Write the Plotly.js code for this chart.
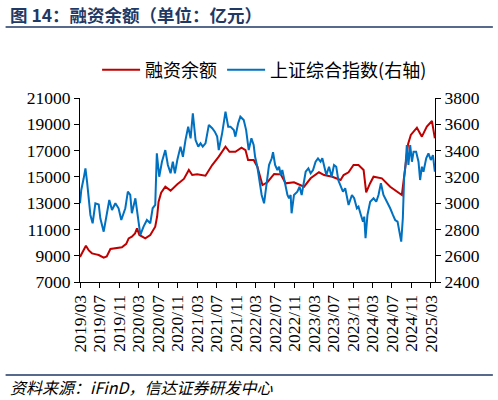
<!DOCTYPE html>
<html>
<head>
<meta charset="utf-8">
<script src="https://cdn.plot.ly/plotly-3.0.1.min.js"></script>
<style>html,body{margin:0;padding:0;background:#fff;}#chart{width:498px;height:400px;}</style>
</head>
<body>
<div id="chart"></div>
<script>
// 融资余额（亿元）
var marginDates = ['2019-03-01','2019-04-07','2019-04-25','2019-05-15','2019-06-10','2019-06-26','2019-07-27','2019-08-15','2019-09-07','2019-10-08','2019-11-18','2019-12-15','2019-12-30','2020-01-19','2020-02-08','2020-02-20','2020-03-06','2020-04-12','2020-05-13','2020-06-13','2020-06-25','2020-07-04','2020-07-20','2020-08-15','2020-09-17','2020-10-29','2020-12-09','2021-01-09','2021-01-30','2021-03-02','2021-04-23','2021-06-04','2021-07-15','2021-08-26','2021-09-20','2021-10-27','2021-12-04','2021-12-29','2022-01-14','2022-02-18','2022-03-13','2022-04-14','2022-05-15','2022-06-26','2022-08-06','2022-09-06','2022-10-28','2022-12-30','2023-02-09','2023-04-02','2023-05-04','2023-06-24','2023-08-15','2023-09-03','2023-10-04','2023-11-04','2023-12-05','2024-01-06','2024-01-22','2024-02-15','2024-03-08','2024-04-29','2024-06-20','2024-09-01','2024-09-22','2024-10-10','2024-10-27','2024-12-04','2025-01-04','2025-02-04','2025-03-08','2025-03-26'];
var marginValues = [8900,9762,9400,9180,9100,9054,8850,8950,9510,9560,9640,9900,10320,10450,10700,11080,10580,10320,10580,11210,12000,13110,13800,14250,13950,14430,14840,15520,15140,15190,15090,15900,16540,17300,16910,16910,17220,17040,16280,16280,15770,14380,14590,15220,15190,14510,14590,14250,14890,15350,15140,15010,14760,15140,15350,15900,15900,15520,13820,14500,15010,14890,14250,13620,15650,17500,18190,18740,18060,18820,19250,17930];

// 上证综合指数（右轴）
var indexDates = ['2019-03-01','2019-03-09','2019-03-24','2019-04-04','2019-04-14','2019-04-24','2019-05-05','2019-05-19','2019-06-05','2019-06-26','2019-07-06','2019-07-27','2019-08-16','2019-08-31','2019-09-17','2019-10-08','2019-10-28','2019-11-14','2019-12-09','2019-12-25','2020-01-09','2020-01-19','2020-02-10','2020-02-20','2020-03-01','2020-03-12','2020-04-01','2020-04-22','2020-05-13','2020-05-28','2020-06-13','2020-06-23','2020-07-08','2020-07-25','2020-08-15','2020-08-31','2020-09-17','2020-10-01','2020-10-14','2020-10-29','2020-11-18','2020-12-03','2020-12-19','2021-01-05','2021-01-20','2021-02-03','2021-02-20','2021-03-09','2021-03-23','2021-04-06','2021-04-23','2021-05-14','2021-06-04','2021-06-20','2021-07-05','2021-07-15','2021-08-05','2021-08-26','2021-09-12','2021-09-26','2021-10-17','2021-10-27','2021-11-13','2021-11-27','2021-12-18','2022-01-02','2022-01-18','2022-02-04','2022-02-18','2022-02-27','2022-03-13','2022-03-28','2022-04-09','2022-04-24','2022-05-09','2022-05-25','2022-06-11','2022-06-19','2022-07-02','2022-07-16','2022-07-27','2022-08-06','2022-08-16','2022-08-27','2022-09-06','2022-09-17','2022-09-27','2022-10-07','2022-10-13','2022-10-28','2022-11-18','2022-12-02','2022-12-15','2022-12-30','2023-01-09','2023-01-26','2023-02-09','2023-02-24','2023-03-12','2023-03-27','2023-04-12','2023-04-23','2023-05-04','2023-05-18','2023-06-04','2023-06-20','2023-07-05','2023-07-19','2023-08-01','2023-08-15','2023-08-30','2023-09-13','2023-10-04','2023-10-25','2023-11-08','2023-11-25','2023-12-05','2023-12-20','2024-01-02','2024-01-10','2024-01-18','2024-01-30','2024-02-16','2024-03-08','2024-03-25','2024-04-08','2024-04-23','2024-05-09','2024-05-31','2024-06-20','2024-07-07','2024-07-21','2024-08-05','2024-08-17','2024-08-28','2024-09-07','2024-09-15','2024-09-24','2024-10-02','2024-10-12','2024-10-23','2024-11-03','2024-11-13','2024-11-29','2024-12-14','2024-12-24','2025-01-04','2025-01-14','2025-01-31','2025-02-14','2025-03-01','2025-03-14','2025-03-26'];
var indexValues = [3000,3100,3189,3265,3163,3011,2910,2847,2999,2990,2885,2783,2910,3024,2948,2999,2961,2872,2961,3087,3062,2923,3037,2948,2821,2758,2821,2872,2847,2961,2986,3379,3201,3315,3404,3290,3227,3315,3227,3328,3430,3353,3480,3582,3493,3684,3480,3430,3455,3430,3455,3595,3570,3544,3506,3404,3531,3696,3582,3582,3556,3506,3607,3658,3633,3556,3404,3493,3442,3353,3277,3163,3062,2999,3125,3290,3341,3387,3290,3252,3277,3214,3252,3189,3138,3062,3037,3062,2923,3062,3087,3125,3062,3163,3239,3265,3227,3252,3315,3341,3315,3341,3277,3214,3277,3201,3290,3277,3174,3138,3087,3113,2986,3062,3037,2961,2973,2910,2859,2897,2733,2910,3011,3037,3011,3062,3151,3062,3011,2961,2910,2872,2859,2783,2707,2885,3189,3290,3442,3290,3442,3315,3391,3391,3315,3176,3277,3239,3341,3379,3328,3366,3239];

var xTickVals = ['2019-03-01','2019-07-01','2019-11-01','2020-03-01','2020-07-01','2020-11-01','2021-03-01','2021-07-01','2021-11-01','2022-03-01','2022-07-01','2022-11-01','2023-03-01','2023-07-01','2023-11-01','2024-03-01','2024-07-01','2024-11-01','2025-03-01'];

var tickFont = {family: 'Liberation Serif, Times New Roman, serif', size: 17.5, color: '#000'};

var traces = [
  {x: marginDates, y: marginValues, name: '融资余额', type: 'scatter', mode: 'lines',
   line: {color: '#C00000', width: 2}, yaxis: 'y'},
  {x: indexDates, y: indexValues, name: '上证综合指数(右轴)', type: 'scatter', mode: 'lines',
   line: {color: '#0070C0', width: 2}, yaxis: 'y2'}
];

var layout = {
  width: 498, height: 400,
  margin: {l: 79.5, r: 63, t: 98, b: 118, pad: 0},
  paper_bgcolor: '#fff', plot_bgcolor: '#fff',
  showlegend: true,
  legend: {orientation: 'h', x: 0.52, xanchor: 'center', y: 1.152, yanchor: 'middle',
    font: {family: 'Noto Sans CJK SC', size: 18, color: '#000'}, itemwidth: 38, bgcolor: 'rgba(0,0,0,0)'},
  xaxis: {type: 'date', range: ['2019-03-01', '2025-03-27'], tickmode: 'array', tickvals: xTickVals,
    tickformat: '%Y/%m', tickangle: -90, ticks: 'outside', ticklen: 5, tickcolor: '#000',
    showline: true, linecolor: '#000', linewidth: 1, showgrid: false, zeroline: false, tickfont: tickFont},
  yaxis: {range: [7000, 21000], tick0: 7000, dtick: 2000, tickformat: 'd', ticks: 'outside', ticklen: 5,
    tickcolor: '#000', showline: true, linecolor: '#000', linewidth: 1, showgrid: false, zeroline: false, tickfont: tickFont},
  yaxis2: {overlaying: 'y', side: 'right', range: [2400, 3800], tick0: 2400, dtick: 200, tickformat: 'd',
    ticks: 'outside', ticklen: 5, tickcolor: '#000', showline: true, linecolor: '#000', linewidth: 1,
    showgrid: false, zeroline: false, tickfont: tickFont},
  shapes: [
    {type: 'line', xref: 'paper', yref: 'paper', x0: -0.2096, x1: 1.163, y0: 1.3859, y1: 1.3859,
     line: {color: '#1F3864', width: 1.5}},
    {type: 'line', xref: 'paper', yref: 'paper', x0: -0.2096, x1: 1.163, y0: -0.5054, y1: -0.5054,
     line: {color: '#1F3864', width: 1.5}}
  ],
  annotations: [
    {xref: 'paper', yref: 'paper', x: -0.2040, y: 1.4511, xanchor: 'left', yanchor: 'middle', showarrow: false,
     text: '<b>图 14：融资余额（单位：亿元）</b>', font: {family: 'Noto Sans CJK SC', size: 17.5, color: '#1F3864'}},
    {xref: 'paper', yref: 'paper', x: -0.2040, y: -0.5680, xanchor: 'left', yanchor: 'middle', showarrow: false,
     text: '<i>资料来源：iFinD，信达证券研发中心</i>', font: {family: 'Noto Sans CJK SC', size: 16, color: '#000'}}
  ]
};

Plotly.newPlot('chart', traces, layout, {staticPlot: true, displayModeBar: false});
</script>
</body>
</html>
